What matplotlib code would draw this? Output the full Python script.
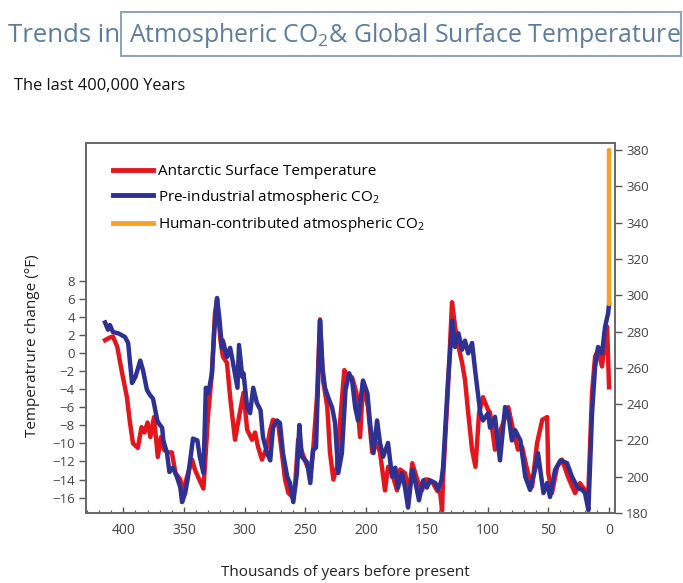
import matplotlib.pyplot as plt
from matplotlib.patches import Rectangle
from matplotlib.lines import Line2D
from matplotlib.ticker import MultipleLocator

plt.rcParams['font.family'] = ['Open Sans', 'DejaVu Sans']
plt.rcParams['mathtext.default'] = 'regular'

# Antarctic ice core temperature anomaly (deg F), thousands of years before present
temp_kyr = [415, 411, 408.5, 405, 401, 397, 394.5, 392, 388, 385, 382.6, 380, 377.7,
            374.7, 371.6, 369, 366.5, 363, 360, 357, 353, 351, 347.5, 343.4, 341,
            338.5, 334, 330, 327, 324.5, 322.8, 320, 318, 314.6, 312, 308, 305.5,
            301, 298, 294, 291.5, 289, 285.8, 281.6, 279, 276.7, 272.6, 269, 266.8,
            264, 261, 258.6, 256, 252.8, 249.5, 246, 243.8, 240.5, 238, 235.5, 232,
            229.8, 227, 224, 221.5, 218, 215, 211.6, 208, 205, 202.6, 198.5, 195,
            191, 188.6, 184.5, 182, 178.7, 174.6, 172, 168, 164.7, 162, 158, 154,
            151.5, 149, 145, 141.6, 139, 137.5, 136.7, 132.6, 129.3, 126.8, 124, 121,
            118.6, 116, 112.8, 110, 107, 103.8, 99.6, 98, 93.9, 91.4, 87, 83, 79,
            75, 71.6, 67.5, 63.4, 59.3, 55, 51, 50, 47, 42.8, 38.7, 33.8, 28, 24,
            19.8, 17, 14, 11.5, 9, 5.8, 3.3, 1.6, 0]
temp_f = [1.4, 1.7, 1.8, 0.7, -2.2, -4.9, -7.7, -10, -10.5, -8.2, -8.8, -7.7, -9.3,
          -7.1, -11.5, -9.3, -10.7, -11, -11, -13.3, -14, -15.5, -13.7, -11.8, -12.9,
          -13.7, -15, -6.6, -2.2, 4.4, 5.9, 1.4, -0.4, -1.1, -4.9, -9.6, -7.7,
          -4.4, -8.5, -9.6, -8.8, -10.4, -11.8, -10.4, -8.5, -7.4, -7.7, -11.5, -14,
          -15.5, -15.9, -14.8, -9.6, -11, -12.2, -13.3, -11, -4.9, 3.7, -3, -6,
          -11, -14, -12.6, -7.7, -1.9, -2.7, -2.7, -4.4, -9.3, -3.3, -6, -11,
          -10, -11, -15.2, -12.6, -13.3, -15.2, -12.9, -13.3, -15.5, -12.2, -14, -15.2,
          -14, -14, -14.4, -15.2, -15.5, -17.4, -14, -3.8, 5.6, 2.9, 0.7, -1.1,
          -3, -6.6, -10.7, -12.6, -6.6, -4.9, -6.3, -6.6, -10.7, -9.3, -7.7, -6, -8.5,
          -10.7, -10.4, -12.9, -14.8, -10, -7.4, -7.1, -13.3, -15.5, -12.6, -11.8, -13.7, -15.5, -14.4,
          -15.2, -15.2, -4.4, -0.4, 0.3, -1.5, 1.4, 2.9, -3.8]

# Pre-industrial atmospheric CO2 (ppm)
co2_kyr = [415, 412.6, 411, 408.5, 404, 398.6, 396, 392.8, 390, 386, 383.8, 380.5,
           378, 375.5, 372, 371, 368, 367, 364, 362, 359, 355.8, 353, 351.6, 349,
           346.7, 342.6, 339, 337, 334, 332, 330, 327, 325, 322.8, 321, 318.7, 318,
           314.6, 312, 309.6, 306, 304.7, 302, 301, 298, 295.6, 293, 290, 287, 285,
           281.6, 279, 276.7, 273.4, 271, 268.5, 265, 262.7, 260, 257, 255, 253,
           248.7, 246, 243.8, 241.3, 238, 236, 233.9, 231.4, 228, 225.6, 223, 220,
           217, 214, 211.6, 209, 206.7, 202.6, 199, 196.8, 194, 191, 188.6, 186,
           182, 178.7, 176, 173.8, 170.6, 168, 165.5, 162, 159.8, 156.5, 153, 150,
           147.4, 143, 140.8, 138, 136.7, 132.6, 129, 126.8, 124, 121, 118.6, 116,
           112.8, 110, 106, 103.8, 99.6, 98, 93.9, 89.8, 85.6, 83, 80, 77.4, 73,
           69, 65, 61, 58.5, 54, 51, 48.6, 44.5, 40, 34.6, 30.5, 26, 22, 19.8, 17,
           14, 11.5, 9, 5.8, 3.3, 0.8, 0]
co2_ppm = [285, 281, 283.6, 279.7, 279, 277, 273.7, 251.6, 255, 264, 258.8, 247.8,
           245, 243, 231, 229.6, 227, 220, 213, 202.6, 205, 199.8, 194, 186, 191,
           199.8, 221, 220, 211, 202, 249, 246, 257, 281, 298.5, 288, 271, 275,
           266, 271, 262.6, 249, 272.6, 255, 257, 238, 235, 249, 240.6, 236.7, 222,
           213, 209, 227, 231, 229.6, 213, 200, 196.5, 186, 202, 228.5, 211,
           208, 196.5, 214.7, 216, 286, 260, 249, 244, 238, 229.6, 202, 213,
           247.8, 257, 253, 238, 231, 253, 246, 229.6, 213, 231, 218.6, 211,
           218.6, 200, 205, 194, 202, 194, 183, 203.7, 198, 187, 198, 194,
           198, 196.5, 192.7, 198, 205, 253, 286, 271.5, 279, 270, 275, 268,
           273.7, 257, 235, 231, 235, 227, 233, 209, 238.4, 235, 220, 225.7, 220,
           200, 192.7, 203.7, 213, 191, 196.5, 188.8, 203.7, 209, 207.5, 200, 194, 192.7, 191, 181.6,
           235, 260.4, 271.5, 268, 282.5, 290, 295]

# Human-contributed CO2 rise at present day (ppm)
human_kyr = [0, 0]
human_ppm = [295, 380]

temp_ticks = list(range(-16, 9, 2))
co2_ticks = list(range(180, 381, 20))
year_ticks = list(range(0, 401, 50))

W, H = 683, 583
fig = plt.figure(figsize=(W / 100, H / 100), dpi=100)

def fx(px):
    return px / W

def fy(py):
    return 1 - py / H

ax = fig.add_axes([fx(86), fy(513), fx(615) - fx(86), fy(143) - fy(513)])
ax2 = ax.twinx()

red = '#e3161c'
blue = '#2e3192'
orange = '#f7a124'
gray = '#555555'

ax.plot(temp_kyr, temp_f, color=red, lw=3.2, solid_joinstyle='round')
ax2.plot(co2_kyr, co2_ppm, color=blue, lw=3.2, solid_joinstyle='round')
ax2.plot(human_kyr, human_ppm, color=orange, lw=3.2, solid_capstyle='round')

ax.set_xlim(430.7, -4.9)
ax.set_ylim(-17.7, 23.2)
ax2.set_ylim(180, 383.9)

ax.set_xticks(year_ticks)
ax.xaxis.set_minor_locator(MultipleLocator(10))
ax.set_yticks(temp_ticks)
ax2.set_yticks(co2_ticks)

ax.tick_params(axis='x', which='major', direction='in', length=4, width=1,
               color=gray, labelcolor='#444444', labelsize=10, pad=7)
ax.tick_params(axis='x', which='minor', direction='in', length=2.5, width=0.8, color=gray)
ax.tick_params(axis='y', direction='out', length=5, width=1, color=gray,
               labelcolor='#444444', labelsize=9.5, pad=3)
ax2.tick_params(axis='y', direction='out', length=5, width=1, color=gray,
                labelcolor='#444444', labelsize=9.5, pad=3)

for a in (ax, ax2):
    for s in a.spines.values():
        s.set_color('#666666')
        s.set_linewidth(1.2)

handles = [Line2D([], [], color=red, lw=3.5),
           Line2D([], [], color=blue, lw=3.5),
           Line2D([], [], color=orange, lw=3.5)]
labels = ['Antarctic Surface Temperature',
          'Pre-industrial atmospheric CO$_2$',
          'Human-contributed atmospheric CO$_2$']
ax2.legend(handles, labels, loc='upper left', bbox_to_anchor=(0.025, 0.98),
           frameon=False, fontsize=11, handlelength=2.6, handletextpad=0.32,
           labelspacing=0.55)

fig.text(fx(33), fy(346), 'Temperatrure change (°F)', rotation=90,
         ha='center', va='center', fontsize=11, color='#222222')
fig.text(fx(345), fy(572), 'Thousands of years before present',
         ha='center', va='center', fontsize=11, color='#222222')

title_color = '#5d7d9c'
fig.text(fx(8), fy(35), 'Trends in', fontsize=18.5, color=title_color,
         ha='left', va='center')
fig.text(fx(129), fy(35), 'Atmospheric CO$_2$& Global Surface Temperature',
         fontsize=17.9, color=title_color, ha='left', va='center')
fig.patches.append(Rectangle((fx(121), fy(56)), fx(681) - fx(121), fy(12) - fy(56),
                             transform=fig.transFigure, fill=False,
                             edgecolor='#8ea5bd', lw=1.5))
fig.text(fx(14), fy(86), 'The last 400,000 Years', fontsize=11.8,
         color='#111111', ha='left', va='center')

fig.savefig('out.png', dpi=100)
